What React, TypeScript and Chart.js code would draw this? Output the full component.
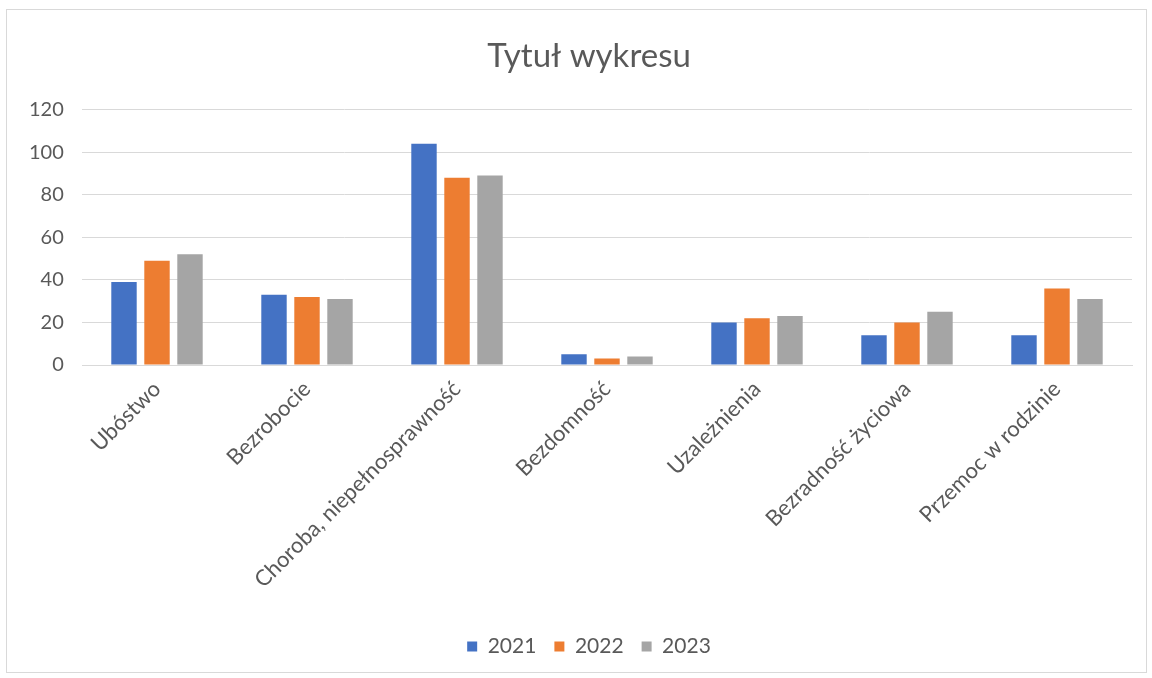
import React, { useEffect, useRef } from "react";
import { Chart, registerables } from "chart.js";

Chart.register(...registerables);

const categories = [
  "Ubóstwo",
  "Bezrobocie",
  "Choroba, niepełnosprawność",
  "Bezdomność",
  "Uzależnienia",
  "Bezradność życiowa",
  "Przemoc w rodzinie",
];
const series2021 = [39, 33, 104, 5, 20, 14, 14];
const series2022 = [49, 32, 88, 3, 22, 20, 36];
const series2023 = [52, 31, 89, 4, 23, 25, 31];
const seriesLabels = ["2021", "2022", "2023"];
const seriesColors = ["#4472C4", "#ED7D31", "#A5A5A5"];
const yTicks = [0, 20, 40, 60, 80, 100, 120];

export default function App() {
  const ref = useRef<HTMLCanvasElement | null>(null);
  useEffect(() => {
    if (!ref.current) return;
    const values = [series2021, series2022, series2023];
    const chart = new Chart(ref.current, {
      type: "bar",
      data: {
        labels: categories,
        datasets: values.map((v, i) => ({
          label: seriesLabels[i],
          data: v,
          backgroundColor: seriesColors[i],
          borderWidth: 0,
          categoryPercentage: 0.66,
          barPercentage: 0.77,
        })),
      },
      options: {
        animation: false,
        responsive: true,
        maintainAspectRatio: false,
        layout: { padding: { left: 39, right: 14, top: 0, bottom: 5 } },
        plugins: {
          title: {
            display: true,
            text: "Tytuł wykresu",
            color: "#595959",
            font: { family: "Lato", size: 33, weight: "normal" },
            padding: { top: 27, bottom: 33 },
          },
          legend: {
            position: "bottom",
            labels: {
              color: "#595959",
              font: { family: "Lato", size: 21 },
              usePointStyle: true,
              pointStyle: "rect",
              boxWidth: 10,
              boxHeight: 10,
              padding: 18,
            },
          },
          tooltip: { enabled: false },
        },
        scales: {
          x: {
            grid: { display: false },
            border: { display: true, color: "#D9D9D9", width: 1 },
            ticks: {
              color: "#595959",
              font: { family: "Lato", size: 22 },
              minRotation: 45,
              maxRotation: 45,
              autoSkip: false,
            },
            afterFit: (s: any) => {
              s.height = 253;
            },
          },
          y: {
            min: 0,
            max: 120,
            afterBuildTicks: (s: any) => {
              s.ticks = yTicks.map((v) => ({ value: v }));
            },
            grid: { color: "#D9D9D9", lineWidth: 1, drawTicks: false },
            border: { display: false },
            ticks: {
              color: "#595959",
              font: { family: "Lato", size: 20 },
              mirror: true,
              crossAlign: "far",
              padding: -53,
            },
            afterFit: (s: any) => {
              s.width = 36;
            },
          },
        },
      },
    });
    return () => chart.destroy();
  }, []);
  return (
    <div
      style={{
        position: "absolute",
        left: 6,
        top: 9,
        width: 1141,
        height: 664,
        boxSizing: "border-box",
        border: "1px solid #D9D9D9",
        background: "#fff",
      }}
    >
      <canvas ref={ref} />
    </div>
  );
}
